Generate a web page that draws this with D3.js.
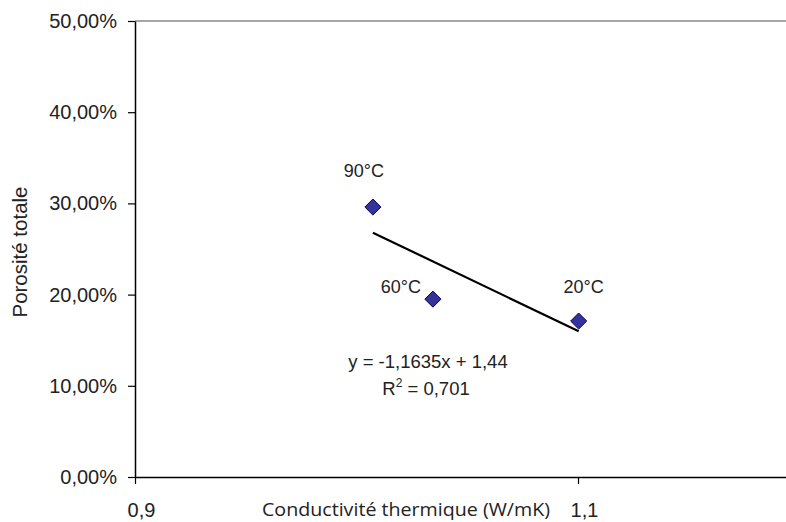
<!DOCTYPE html>
<html><head><meta charset="utf-8">
<script src="https://cdn.jsdelivr.net/npm/d3@7"></script>
<style>body{margin:0;background:#fff;overflow:hidden}svg{display:block}</style>
</head><body>
<svg id="c" width="786" height="522"></svg>
<script>
const labels = ["90°C", "60°C", "20°C"];
const conductivity = [1.0074, 1.0345, 1.1003];
const porosity = [0.296, 0.195, 0.171];
const yTicks = [0, 0.1, 0.2, 0.3, 0.4, 0.5];
const xTicks = [0.9, 1.1];
const slope = -1.1635, intercept = 1.44;
const eqText = "y = -1,1635x + 1,44";
const r2Value = "0,701";

const svg = d3.select("#c");
const x = d3.scaleLinear().domain([0.9, 1.2]).range([135, 799.5]);
const y = d3.scaleLinear().domain([0, 0.5]).range([477, 21]);
const fmtPct = d => d3.format(".2f")(d * 100).replace(".", ",") + "%";
const fmtX = d => String(d).replace(".", ",");
const FONT = "Liberation Sans, Arial, sans-serif";

// top border line
svg.append("line").attr("x1", 135).attr("x2", 786).attr("y1", y(0.5)).attr("y2", y(0.5))
  .attr("stroke", "#888").attr("stroke-width", 1.5);

// Y axis
const gy = svg.append("g").attr("transform", "translate(135,0)")
  .call(d3.axisLeft(y).tickValues(yTicks).tickFormat(fmtPct).tickSize(7).tickSizeOuter(0));
gy.select(".domain").attr("stroke", "#000").attr("stroke-width", 1.5);
gy.selectAll(".tick line").attr("stroke", "#000").attr("stroke-width", 1.2);
gy.selectAll(".tick text").attr("x", -18).attr("font-family", FONT)
  .attr("font-size", 20).attr("fill", "#222");

// X axis
const gx = svg.append("g").attr("transform", "translate(0,477)")
  .call(d3.axisBottom(x).tickValues(xTicks).tickFormat(fmtX).tickSize(7).tickSizeOuter(0));
gx.select(".domain").attr("stroke", "#000").attr("stroke-width", 1.5);
gx.selectAll(".tick line").attr("stroke", "#000").attr("stroke-width", 1.2);
gx.selectAll(".tick text").attr("y", 26).attr("dx", 6).attr("font-family", FONT)
  .attr("font-size", 20).attr("fill", "#222");

// axis titles
svg.append("text").attr("x", 262).attr("y", 516)
  .attr("font-family", "Open Sans, sans-serif").attr("font-size", 17.5).attr("fill", "#222")
  .attr("textLength", 288).attr("lengthAdjust", "spacingAndGlyphs")
  .text("Conductivité thermique (W/mK)");
svg.append("text").attr("transform", "translate(27,252) rotate(-90)").attr("text-anchor", "middle")
  .attr("font-family", FONT).attr("font-size", 20.5).attr("fill", "#222")
  .text("Porosité totale");

// trend line
const x0 = d3.min(conductivity), x1 = d3.max(conductivity);
svg.append("line").attr("x1", x(x0)).attr("y1", y(slope * x0 + intercept))
  .attr("x2", x(x1)).attr("y2", y(slope * x1 + intercept))
  .attr("stroke", "#000").attr("stroke-width", 2.2);

// points
const data = labels.map((l, i) => ({l, cx: conductivity[i], p: porosity[i]}));
svg.selectAll("path.pt").data(data).join("path").attr("class", "pt")
  .attr("d", d3.symbol().type(d3.symbolDiamond2).size(165))
  .attr("transform", d => `translate(${x(d.cx)},${y(d.p)})`)
  .attr("fill", "#333399").attr("stroke", "#000066").attr("stroke-width", 1);

// point labels
const lblOff = [[-9, -30], [-32, -6], [5, -28]];
svg.selectAll("text.pl").data(data).join("text").attr("class", "pl")
  .attr("x", (d, i) => x(d.cx) + lblOff[i][0]).attr("y", (d, i) => y(d.p) + lblOff[i][1])
  .attr("text-anchor", "middle").attr("font-family", FONT)
  .attr("font-size", 18).attr("fill", "#222").text(d => d.l);

// equation
svg.append("text").attr("x", 428).attr("y", 368).attr("text-anchor", "middle")
  .attr("font-family", FONT).attr("font-size", 18.5).attr("fill", "#222")
  .text(eqText);
const r2 = svg.append("text").attr("x", 426).attr("y", 395).attr("text-anchor", "middle")
  .attr("font-family", FONT).attr("font-size", 18.5).attr("fill", "#222");
r2.append("tspan").text("R");
r2.append("tspan").attr("dy", -8).attr("font-size", 12).text("2");
r2.append("tspan").attr("dy", 8).text(" = " + r2Value);
</script>
</body></html>
